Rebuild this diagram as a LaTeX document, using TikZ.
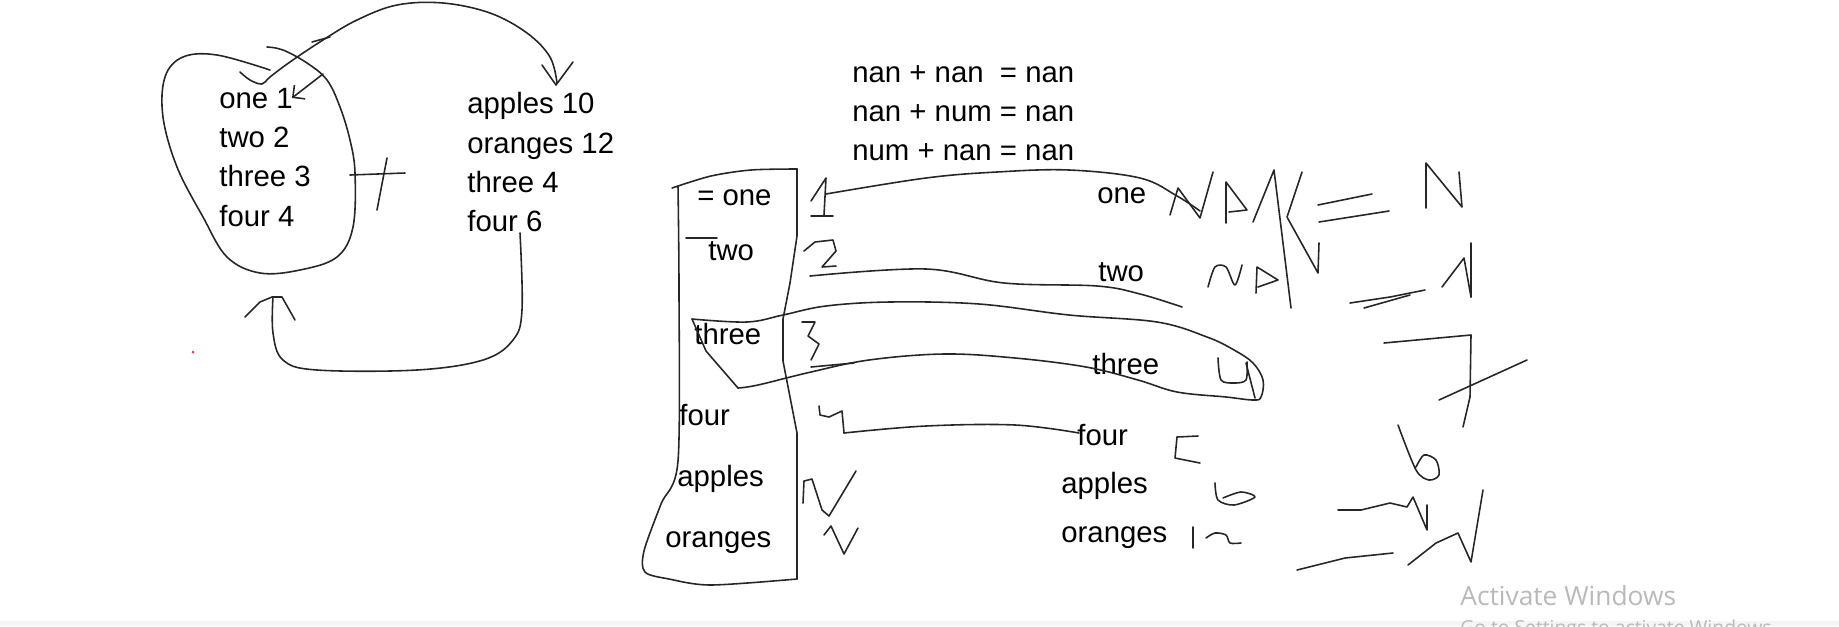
\documentclass[tikz,border=0pt]{standalone}
\usepackage{fontspec}
\setmainfont{Liberation Sans}
\newfontfamily\winfont{Open Sans}
\usetikzlibrary{arrows.meta}

\begin{document}
\begin{tikzpicture}[
  x=0.02cm, y=-0.02cm,
  txt/.style={anchor=base west, inner sep=0pt, font=\fontsize{16.7}{20}\selectfont},
  ink/.style={line width=0.9pt, black!85, line cap=round, line join=round},
]
\useasboundingbox (0,0) rectangle (1839,626);
\fill[gray!8] (0,621) rectangle (1839,626);

% left lists
\node[txt] (one1)   at (219,108) {one 1};
\node[txt] (two2)   at (219,147) {two 2};
\node[txt] (three3) at (219,186) {three 3};
\node[txt] (four4)  at (219,226) {four 4};
\node[txt] (apples10)  at (467,113) {apples 10};
\node[txt] (oranges12) at (467,153) {oranges 12};
\node[txt] (three4)    at (467,192) {three 4};
\node[txt] (four6)     at (467,231) {four 6};

% blob round the first list
\draw[ink] plot[smooth, tension=0.6] coordinates {(270,70) (217,55) (183,57) (165,77) (163,117) (177,167) (203,217) (227,257) (260,273) (300,270) (337,257) (353,227) (355,173) (350,140) (340,107) (327,80) (307,63) (283,50) (267,47)};
\draw[ink] plot[smooth, tension=0.6] coordinates {(240,72) (250,80) (262,84) (270,77) (290,62) (323,40) (357,20) (397,5) (443,3) (490,13) (527,33) (550,57) (557,83)};
\draw[ink] (542,65) -- (556,85) -- (573,62);
\draw[ink] (312,42) -- (330,37);
\draw[ink, {Straight Barb[length=5pt]}-] (292,98) -- (323,74);
\draw[ink] (350,175) -- (405,173);
\draw[ink] (387,158) -- (377,210);
\draw[ink] plot[smooth, tension=0.6] coordinates {(520,233) (522,310) (513,340) (483,360) (417,370) (317,370) (283,360) (273,333) (273,297)};
\draw[ink] (245,317) -- (260,302) -- (272,297) -- (282,297) -- (295,320);
\fill[red!80] (193,352) circle (1.5);

% rules
\node[txt] (eqA) at (852,82)  {nan + nan\ \ = nan};
\node[txt] (eqB) at (852,121) {nan + num = nan};
\node[txt] (eqC) at (852,160) {num + nan = nan};

% left column of the sum
\node[txt] (cOne)     at (697,205) {= one};
\node[txt] (cTwo)     at (708,260) {two};
\node[txt] (cThree)   at (694,344) {three};
\node[txt] (cFour)    at (679,425) {four};
\node[txt] (cApples)  at (677,486) {apples};
\node[txt] (cOranges) at (665,547) {oranges};
\draw[ink] plot[smooth, tension=0.5] coordinates {(672,188) (711,176) (751,170) (797,169)};
\draw[ink] (797,169) -- (797,236) -- (790,283) -- (783,319) -- (783,361) -- (790,397) -- (797,433) -- (797,579);
\draw[ink] plot[smooth, tension=0.5] coordinates {(797,579) (711,585) (669,579) (645,572) (644,551) (661,504) (678,461) (679,290) (678,186)};
\draw[ink] (686,238) -- (717,238);

% right column of the sum
\node[txt] (rOne)     at (1097,203) {one};
\node[txt] (rTwo)     at (1098,281) {two};
\node[txt] (rThree)   at (1092,374) {three};
\node[txt] (rFour)    at (1077,445) {four};
\node[txt] (rApples)  at (1061,493) {apples};
\node[txt] (rOranges) at (1061,542) {oranges};

% row one
\draw[ink] (811,201) -- (826,178) -- (824,215);
\draw[ink] (811,216) -- (833,216);
\draw[ink] plot[smooth, tension=0.6] coordinates {(826,194) (926,178) (997,172) (1069,170) (1140,178) (1177,196) (1200,211)};
\draw[ink] (1170,215) -- (1178,188) -- (1200,218) -- (1213,172);
\draw[ink] (1226,223) -- (1226,182) -- (1247,210) -- (1229,212);
\draw[ink] (1253,222) -- (1274,170) -- (1291,308);
\draw[ink] (1302,172) -- (1287,217) -- (1318,273) -- (1319,243);
\draw[ink] (1318,205) -- (1372,194);
\draw[ink] (1319,222) -- (1389,211);
\draw[ink] (1426,208) -- (1426,163) -- (1462,207) -- (1459,172);

% row two
\draw[ink] (804,251) -- (815,242) -- (833,240) -- (836,251) -- (822,267) -- (836,266);
\draw[ink] plot[smooth, tension=0.6] coordinates {(810,276) (926,269) (1004,283) (1097,286) (1140,294) (1182,307)};
\draw[ink] plot[smooth, tension=0.5] coordinates {(1208,287) (1215,267) (1226,267) (1235,285) (1242,265)};
\draw[ink] (1256,293) -- (1257,267) -- (1278,280) -- (1258,287);
\draw[ink] (1350,303) -- (1390,297) -- (1425,290);
\draw[ink] (1364,308) -- (1410,295);
\draw[ink] (1442,287) -- (1464,258) -- (1471,297);
\draw[ink] (1471,243) -- (1471,297);

% row three
\draw[ink] (692,319) -- (706,351) -- (738,388);
\draw[ink] plot[smooth, tension=0.6] coordinates {(692,319) (747,322) (783,315) (826,306) (890,302) (979,304) (1069,315) (1157,322) (1207,337) (1234,350) (1253,363) (1263,380) (1261,397) (1253,400) (1226,397) (1177,392) (1138,380) (1086,367) (1015,358) (944,354) (869,360) (811,372) (758,385) (738,388)};
\draw[ink] (802,322) -- (815,322) -- (808,336) -- (819,344) -- (811,360);
\draw[ink] (811,367) -- (854,363);
\draw[ink] plot[smooth, tension=0.5] coordinates {(1218,358) (1221,380) (1234,383) (1246,380) (1247,362)};
\draw[ink] (1246,363) -- (1255,398);
\draw[ink] (1384,343) -- (1471,335) -- (1470,397) -- (1463,427);
\draw[ink] (1439,400) -- (1527,360);

% row four
\draw[ink] (819,406) -- (820,415) -- (829,417) -- (842,411) -- (844,433);
\draw[ink] plot[smooth, tension=0.6] coordinates {(844,433) (926,426) (1015,425) (1079,433)};
\draw[ink] (1198,436) -- (1177,437) -- (1175,458) -- (1200,463);
\draw[ink] plot[smooth, tension=0.5] coordinates {(1398,425) (1416,470) (1429,480) (1439,475) (1436,460) (1424,455) (1416,467)};

% apples and oranges
\draw[ink] (803,503) -- (804,481) -- (812,479) -- (822,510) -- (829,516) -- (856,471);
\draw[ink] (824,535) -- (831,526) -- (844,554) -- (858,528);
\draw[ink] plot[smooth, tension=0.5] coordinates {(1215,483) (1218,500) (1234,505) (1255,497) (1241,492) (1223,498)};
\draw[ink] (1338,510) -- (1361,510) -- (1390,503) -- (1407,507) -- (1413,497) -- (1427,530) -- (1427,505);
\draw[ink] (1193,527) -- (1193,548);
\draw[ink] plot[smooth, tension=0.5] coordinates {(1206,538) (1215,533) (1226,535) (1230,543) (1241,543)};
\draw[ink] (1297,570) -- (1345,558) -- (1393,553);
\draw[ink] (1408,565) -- (1436,543) -- (1458,533) -- (1471,562) -- (1483,490);

% watermark
\node[anchor=base west, inner sep=0pt, font=\winfont\fontsize{15}{18}\selectfont, text=gray!55] (act) at (1460,605) {Activate Windows};
\node[anchor=base west, inner sep=0pt, font=\winfont\fontsize{11}{13}\selectfont, text=gray!55] (actGo) at (1460,634) {Go to Settings to activate Windows.};
\end{tikzpicture}
\end{document}
